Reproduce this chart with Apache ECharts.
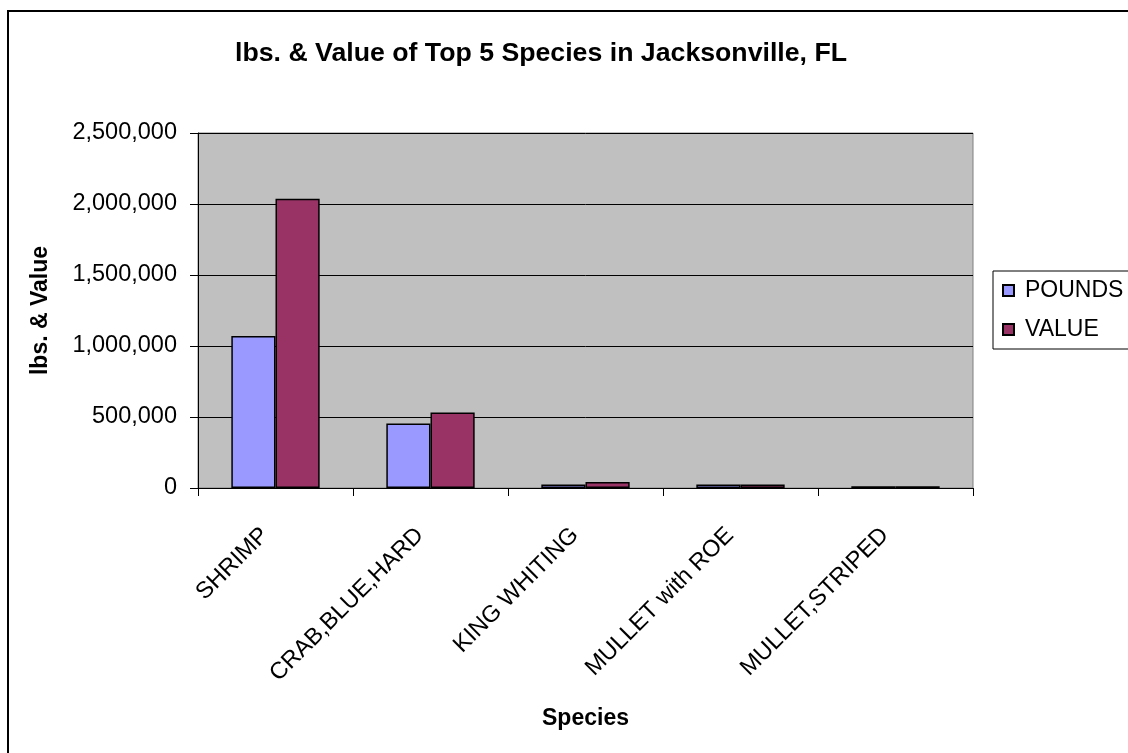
<!DOCTYPE html>
<html>
<head>
<meta charset="utf-8">
<style>
  html, body { margin: 0; padding: 0; background: #ffffff; }
  #chart { width: 1128px; height: 753px; }
</style>
<script src="https://cdn.jsdelivr.net/npm/echarts@6/dist/echarts.min.js"></script>
</head>
<body>
<div id="chart"></div>
<script>
// Landings at Jacksonville, FL: pounds and dollar value for the five leading species
const species = ['SHRIMP', 'CRAB,BLUE,HARD', 'KING WHITING', 'MULLET with ROE', 'MULLET,STRIPED'];
const pounds = [1070000, 455000, 25000, 25000, 12000];
const value = [2037000, 532000, 42000, 24000, 12000];
const yTicks = { min: 0, max: 2500000, interval: 500000 };

const FONT = '"Liberation Sans", Arial, sans-serif';

const chart = echarts.init(document.getElementById('chart'), null, { renderer: 'canvas' });

chart.setOption({
  animation: false,
  backgroundColor: '#ffffff',
  textStyle: { fontFamily: FONT },
  title: {
    text: 'lbs. & Value of Top 5 Species in Jacksonville, FL',
    left: 235,
    top: 40,
    padding: 0,
    textStyle: { fontFamily: FONT, fontSize: 26.7, fontWeight: 'bold', color: '#000000' }
  },
  graphic: [{
    type: 'rect',
    shape: { x: 8, y: 11, width: 1200, height: 800 },
    style: { fill: 'none', stroke: '#000000', lineWidth: 2 },
    z: -1,
    silent: true
  }],
  legend: {
    orient: 'vertical',
    left: 993,
    top: 271,
    padding: [7, 30, 7, 9],
    itemGap: 14,
    itemWidth: 11,
    itemHeight: 11,
    borderColor: '#000000',
    borderWidth: 1,
    backgroundColor: '#ffffff',
    icon: 'rect',
    textStyle: { fontFamily: FONT, fontSize: 23, color: '#000000', lineHeight: 25, padding: [0, 0, 0, 6] },
    data: ['POUNDS', 'VALUE']
  },
  grid: {
    left: 198,
    right: 155,
    top: 133,
    bottom: 265,
    show: true,
    backgroundColor: '#c0c0c0',
    borderColor: '#808080',
    borderWidth: 1,
    containLabel: false
  },
  xAxis: {
    type: 'category',
    data: species,
    name: 'Species',
    nameLocation: 'middle',
    nameGap: 219,
    nameTextStyle: { fontFamily: FONT, fontSize: 23, fontWeight: 'bold', color: '#000000' },
    axisLine: { lineStyle: { color: '#000000', width: 1 } },
    axisTick: { show: true, length: 8, alignWithLabel: false, lineStyle: { color: '#000000' } },
    axisLabel: {
      rotate: 45,
      interval: 0,
      margin: 33,
      padding: [0, 15, 0, 0],
      fontFamily: FONT,
      fontSize: 23.5,
      color: '#000000'
    },
    splitLine: { show: false }
  },
  yAxis: {
    type: 'value',
    min: yTicks.min,
    max: yTicks.max,
    interval: yTicks.interval,
    name: 'lbs. & Value',
    nameLocation: 'middle',
    nameGap: 146,
    nameTextStyle: { fontFamily: FONT, fontSize: 23, fontWeight: 'bold', color: '#000000' },
    axisLine: { show: true, lineStyle: { color: '#000000', width: 1 } },
    axisTick: { show: true, length: 8, lineStyle: { color: '#000000' } },
    axisLabel: {
      margin: 21,
      fontFamily: FONT,
      fontSize: 23.5,
      color: '#000000',
      formatter: v => v.toLocaleString('en-US')
    },
    splitLine: { show: true, lineStyle: { color: '#000000', width: 1 } }
  },
  series: [
    {
      name: 'POUNDS',
      type: 'bar',
      data: pounds,
      barGap: '0%',
      barCategoryGap: '43%',
      itemStyle: { color: '#9999ff', borderColor: '#000000', borderWidth: 1.5 }
    },
    {
      name: 'VALUE',
      type: 'bar',
      data: value,
      barGap: '0%',
      barCategoryGap: '43%',
      itemStyle: { color: '#993366', borderColor: '#000000', borderWidth: 1.5 }
    }
  ]
});
</script>
</body>
</html>
